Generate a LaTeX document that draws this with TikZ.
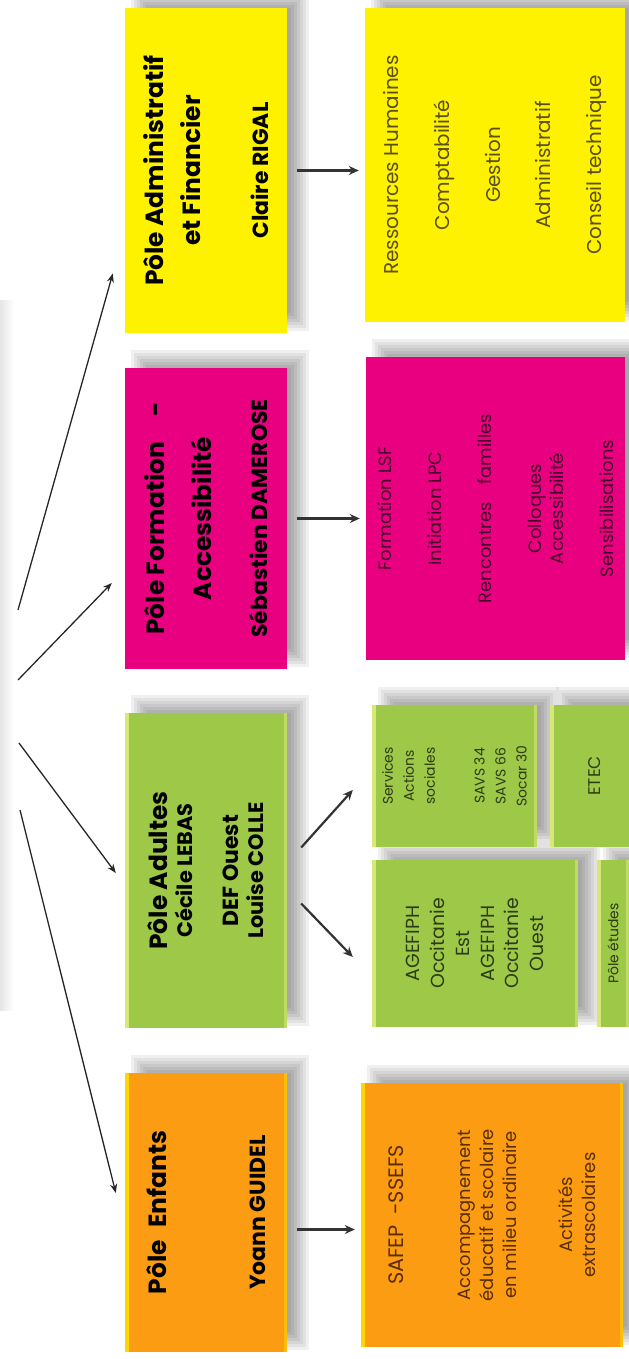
\documentclass[tikz,border=0pt]{standalone}
\usepackage{fontspec}
\setmainfont{Poppins}
\usetikzlibrary{arrows.meta,calc}
\pgfdeclarelayer{bg}
\pgfsetlayers{bg,main}
\definecolor{cyel}{RGB}{255,242,0}
\definecolor{cmag}{RGB}{232,0,128}
\definecolor{cgrn}{RGB}{158,200,72}
\definecolor{corg}{RGB}{252,156,18}
\definecolor{tyel}{RGB}{90,80,20}
\definecolor{tmag}{RGB}{70,0,40}
\definecolor{tgrn}{RGB}{45,60,20}
\definecolor{torg}{RGB}{90,45,0}
\definecolor{edgeorg}{RGB}{255,215,0}
\definecolor{edgegrn}{RGB}{215,232,120}
\begin{document}
\begin{tikzpicture}[x=1bp,y=-1bp,
  box/.style={rotate=90, inner sep=0pt, align=center},
  mainarrow/.style={line width=2.2bp, draw=black!80, -{Stealth[length=10bp,width=9bp]}},
  fanarrow/.style={line width=1.3bp, draw=black!85, -{Stealth[length=9bp,width=7bp]}}]
\useasboundingbox (0,0) rectangle (629,1359);

% column 1
\node[box, fill=cyel, minimum width=325bp, minimum height=162bp,
  font=\fontsize{25}{37}\selectfont\bfseries] (admin) at (206,170.5)
  {Pôle Administratif\\et Financier\\[31bp]{\fontsize{22}{37}\selectfont Claire RIGAL}};
\node[box, fill=cmag, minimum width=301bp, minimum height=162bp,
  font=\fontsize{25}{48}\selectfont\bfseries] (formation) at (206,518.5)
  {Pôle Formation\quad -\\Accessibilité\\[8bp]{\fontsize{22}{48}\selectfont Sébastien DAMEROSE}};
\node[box, fill=cgrn, minimum width=315bp, minimum height=162bp,
  font=\fontsize{25}{25}\selectfont\bfseries] (adultes) at (206,870.5)
  {Pôle Adultes\\{\fontsize{21}{25}\selectfont Cécile LEBAS}\\[21bp]{\fontsize{22}{25}\selectfont DEF Ouest}\\{\fontsize{21}{25}\selectfont Louise COLLE}};
\node[box, fill=corg, minimum width=279bp, minimum height=162bp,
  font=\fontsize{25}{30}\selectfont\bfseries] (enfants) at (206,1212.5)
  {Pôle\enspace Enfants\\[69bp]{\fontsize{22}{30}\selectfont Yoann GUIDEL}};

% column 2
\node[box, fill=cyel, text=tyel, minimum width=314bp, minimum height=260bp,
  font=\fontsize{20}{51}\selectfont] (adminlist) at (495,165)
  {Ressources Humaines\\Comptabilité\\Gestion\\Administratif\\Conseil technique};
\node[box, fill=cmag, text=tmag, minimum width=303bp, minimum height=259bp,
  font=\fontsize{18}{22}\selectfont] (formlist) at (495.5,508.5)
  {Formation LSF\\[28bp]Initiation LPC\\[28bp]Rencontres\quad familles\\[28bp]Colloques\\Accessibilité\\[28bp]Sensibilisations};
\node[box, fill=cgrn, text=tgrn, minimum width=142bp, minimum height=165bp,
  font=\fontsize{14}{21}\selectfont] (services) at (454.5,776)
  {Services\\Actions\\sociales\\[29bp]SAVS 34\\SAVS 66\\Socar 30};
\node[box, fill=cgrn, text=tgrn, minimum width=142bp, minimum height=90bp,
  font=\fontsize{17}{20}\selectfont] (etec) at (595,776) {ETEC};
\node[box, fill=cgrn, text=tgrn, minimum width=167bp, minimum height=206bp,
  font=\fontsize{19}{25}\selectfont] (agefiph) at (475,943.5)
  {AGEFIPH\\Occitanie\\Est\\AGEFIPH\\Occitanie\\Ouest};
\node[box, fill=cgrn, text=tgrn, minimum width=167bp, minimum height=32bp,
  font=\fontsize{14}{17}\selectfont] (etudes) at (613,943.5) {Pôle études};
\node[box, fill=corg, text=torg, minimum width=264bp, minimum height=262bp,
  font=\fontsize{18}{23}\selectfont] (safep) at (492,1215)
  {{\fontsize{21}{23}\selectfont SAFEP\enspace-SSEFS}\\[44bp]Accompagnement\\éducatif et scolaire\\en milieu ordinaire\\[33bp]Activités\\extrascolaires};

% bevel edges
\foreach \n/\c in {enfants/edgeorg,safep/edgeorg,adultes/edgegrn,services/edgegrn,etec/edgegrn,agefiph/edgegrn,etudes/edgegrn}{
  \fill[\c] (\n.north west) rectangle ($(\n.north east)+(4,0)$);
  \fill[\c,opacity=0.6] (\n.south west) rectangle ($(\n.south east)+(-3,0)$);
}

% shadows
\begin{pgfonlayer}{bg}
\shade[left color=black!10, right color=white] (0,300) rectangle (14,1010);
\foreach \n in {admin,adminlist,formation,formlist,adultes,services,etec,agefiph,etudes,enfants,safep}{
  \foreach \e in {-10,-7,-4,-1,2,5,8}{
    \fill[black,opacity=0.06] ($(\n.north east)+(14-\e,-10-\e)$) rectangle ($(\n.south west)+(14+\e,-10+\e)$);
  }
}
\end{pgfonlayer}

% fan arrows from the (off-picture) top
\coordinate (f1) at (18,610);
\coordinate (f2) at (18,680);
\coordinate (f3) at (19,743);
\coordinate (f4) at (20,810);
\draw[fanarrow] (f1) -- ($(admin.north)+(-12,103)$);
\draw[fanarrow] (f2) -- ($(formation.north)+(-13,64.5)$);
\draw[fanarrow] (f3) -- ($(adultes.north)+(-9,2.5)$);
\draw[fanarrow] (f4) -- ($(enfants.north)+(-9,-19.5)$);

% pole -> services arrows
\coordinate (ea) at ($(enfants.south)+(0,17)$);
\draw[mainarrow, shorten <=10bp, shorten >=6bp] (admin.south) -- (admin.south -| adminlist.north);
\draw[mainarrow, shorten <=10bp, shorten >=6bp] (formation.south) -- (formation.south -| formlist.north);
\draw[mainarrow, shorten <=10bp, shorten >=6bp] (ea) -- (ea -| safep.north);
\draw[mainarrow] ($(adultes.south)+(14,-23)$) -- ($(services.north)+(-19,14)$);
\draw[mainarrow] ($(adultes.south)+(14,33)$) -- ($(agefiph.north)+(-19,13.5)$);
\end{tikzpicture}
\end{document}
